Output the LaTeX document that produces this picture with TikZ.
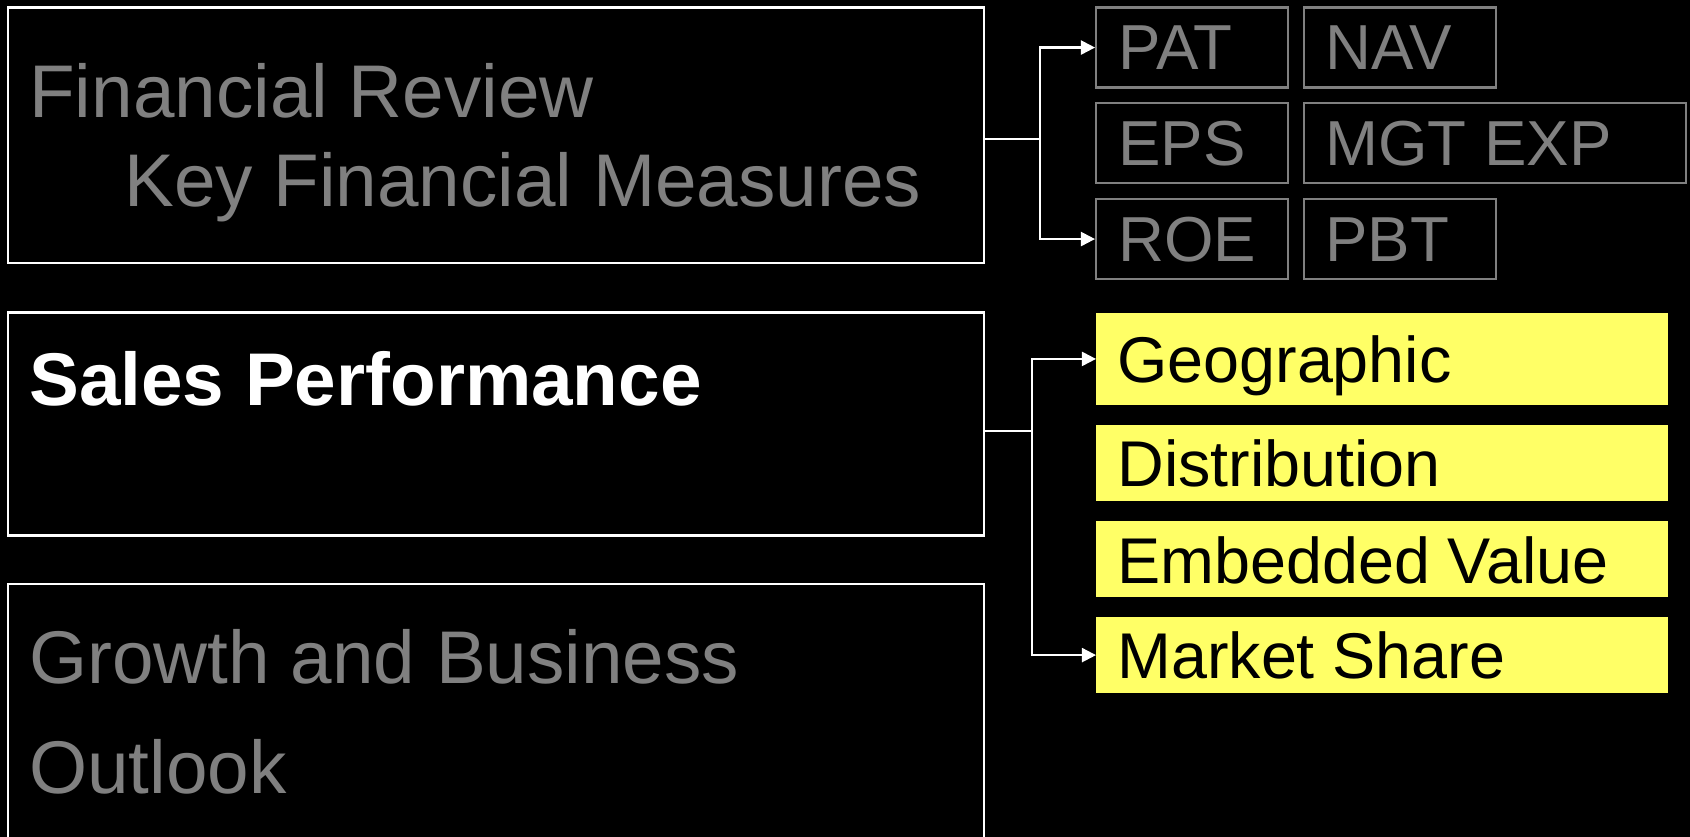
\documentclass[tikz,border=0pt]{standalone}
\usepackage{fontspec}
\setmainfont{Liberation Sans}
\usetikzlibrary{arrows.meta,positioning,calc}
\definecolor{dimGrey}{RGB}{128,128,128}
\definecolor{paleYellow}{RGB}{255,255,102}

\begin{document}
\begin{tikzpicture}[x=0.02cm, y=-0.02cm,
		topicBox/.style={
				draw=white, line width=1.2pt, anchor=north west,
				minimum width=19.53cm, inner sep=0pt
			},
		measureBox/.style={
				draw=dimGrey, line width=1.2pt, anchor=north west,
				minimum width=3.84cm, minimum height=1.6cm, inner sep=0pt
			},
		salesBox/.style={
				fill=paleYellow, anchor=north west,
				minimum width=11.44cm, minimum height=1.53cm, inner sep=0pt
			},
		topicText/.style={anchor=base west, inner sep=0pt, font=\fontsize{42.5}{50}\selectfont},
		itemText/.style={anchor=base west, inner sep=0pt, font=\fontsize{36.2}{43}\selectfont},
		link/.style={draw=white, line width=1.2pt},
		linkArrow/.style={link, -{Triangle[length=8pt, width=8pt]}}
	]

	% background and page
	\fill[black] (0,0) rectangle (1690,837);
	\clip (0,0) rectangle (1690,837);

	% Left topics
	\node[topicBox, minimum height=5.11cm] (finBox) at (6.5,6.5) {};
	\node[topicBox, minimum height=4.46cm] (salesBox) at (6.5,311.5) {};
	\node[topicBox, minimum height=6cm] (growBox) at (6.5,583) {};

	\node[topicText, text=dimGrey] (finT) at (29,118) {Financial Review};
	\node[topicText, text=dimGrey] (keyT) at (124,207) {Key Financial Measures};
	\node[topicText, text=white, font=\fontsize{42.5}{50}\selectfont\bfseries] (salesT) at (29,406) {Sales Performance};
	\node[topicText, text=dimGrey] (growT) at (29,683) {Growth and Business};
	\node[topicText, text=dimGrey] (outT) at (29,793) {Outlook};

	% Financial measures
	\node[measureBox] (patBox) at (1095,6.5) {};
	\node[measureBox] (navBox) at (1303,6.5) {};
	\node[measureBox] (epsBox) at (1095,102) {};
	\node[measureBox, minimum width=7.64cm] (mgtBox) at (1303,102) {};
	\node[measureBox] (roeBox) at (1095,198) {};
	\node[measureBox] (pbtBox) at (1303,198) {};

	\node[itemText, text=dimGrey] (patT) at (1118,70) {PAT};
	\node[itemText, text=dimGrey] (navT) at (1325,70) {NAV};
	\node[itemText, text=dimGrey] (epsT) at (1118,166) {EPS};
	\node[itemText, text=dimGrey] (mgtT) at (1325,166) {MGT EXP};
	\node[itemText, text=dimGrey] (roeT) at (1118,262) {ROE};
	\node[itemText, text=dimGrey] (pbtT) at (1325,262) {PBT};

	% Sales items
	\node[salesBox, minimum height=1.84cm] (geoBox) at (1096,312.6) {};
	\node[salesBox] (distBox) at (1096,424.6) {};
	\node[salesBox] (embBox) at (1096,520.6) {};
	\node[salesBox] (mktBox) at (1096,616.5) {};

	\node[itemText, font=\fontsize{36.8}{43}\selectfont] (geoT) at (1117,383) {Geographic};
	\node[itemText, font=\fontsize{36.8}{43}\selectfont] (distT) at (1117,487) {Distribution};
	\node[itemText, font=\fontsize{36.8}{43}\selectfont] (embT) at (1117,583) {Embedded Value};
	\node[itemText, font=\fontsize{36.8}{43}\selectfont] (mktT) at (1117,678) {Market Share};

	% connectors
	\draw[link] ($(finBox.east)+(0,4)$) -- ++(55,0) coordinate (finJoin);
	\draw[linkArrow] (finJoin) |- (patBox.west);
	\draw[linkArrow] (finJoin) |- (roeBox.west);

	\draw[link] ($(salesBox.east)+(0,7)$) -- ++(47,0) coordinate (salesJoin);
	\draw[linkArrow] (salesJoin) |- (geoBox.west);
	\draw[linkArrow] (salesJoin) |- (mktBox.west);
\end{tikzpicture}
\end{document}
